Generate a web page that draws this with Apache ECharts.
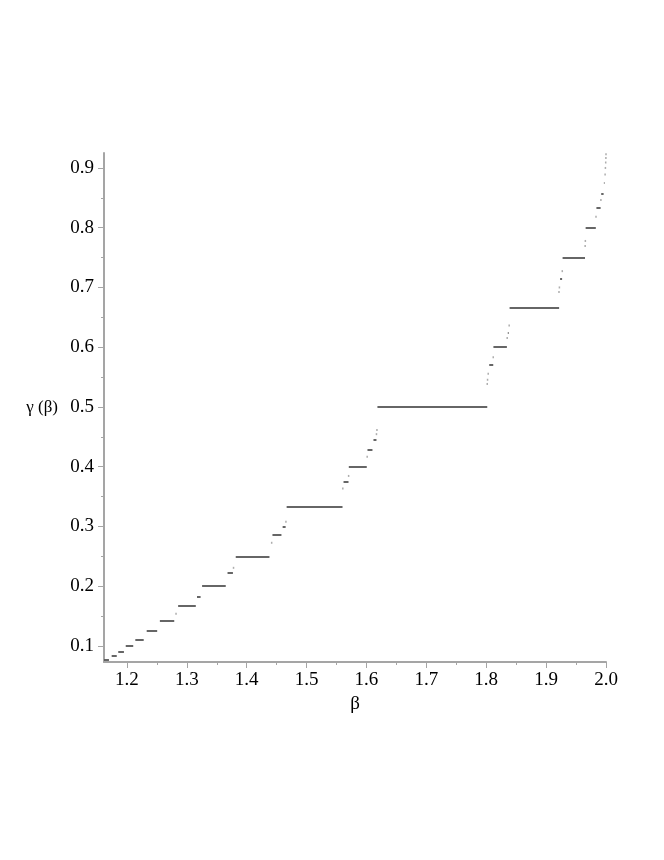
<!DOCTYPE html>
<html>
<head>
<meta charset="utf-8">
<script src="https://cdn.jsdelivr.net/npm/echarts@6.0.0/dist/echarts.min.js"></script>
<style>
  html, body { margin: 0; padding: 0; background: #fff; }
  #chart { width: 664px; height: 860px; }
</style>
</head>
<body>
<div id="chart"></div>
<script>
// plateaus of gamma(beta): level, start beta, end beta
const stepGamma = [0.0769, 0.0833, 0.0909, 0.1, 0.1111, 0.125, 0.1429, 0.1667, 0.1818, 0.2,
    0.2222, 0.25, 0.2857, 0.3, 0.3333, 0.375, 0.4, 0.4286, 0.4444, 0.5,
    0.5714, 0.6, 0.625, 0.6667, 0.7143, 0.75, 0.8, 0.8333, 0.8571, 0.875];
const stepStart = [1.1620, 1.1745, 1.1855, 1.1980, 1.2140, 1.2330, 1.2550, 1.2855, 1.3170, 1.3255,
    1.3680, 1.3817, 1.4430, 1.4600, 1.4667, 1.5617, 1.5705, 1.6017, 1.6117, 1.6183,
    1.8050, 1.8120, 1.8360, 1.8390, 1.9233, 1.9275, 1.9660, 1.9840, 1.9920, 1.9965];
const stepEnd = [1.1700, 1.1830, 1.1950, 1.2105, 1.2280, 1.2505, 1.2790, 1.3150, 1.3230, 1.3650,
    1.3770, 1.4380, 1.4580, 1.4650, 1.5600, 1.5700, 1.6005, 1.6100, 1.6167, 1.8017,
    1.8117, 1.8345, 1.8375, 1.9217, 1.9267, 1.9650, 1.9830, 1.9910, 1.9960, 1.9975];

// isolated points between the plateaus
const dotBeta = [1.282, 1.378, 1.4417, 1.4655, 1.5605, 1.5702, 1.6012, 1.6167, 1.6175,
    1.8017, 1.8022, 1.8033, 1.8117, 1.8350, 1.8383, 1.9215, 1.9222, 1.9270,
    1.9652, 1.9655, 1.9833, 1.9915, 1.9985, 1.9990, 1.9995, 1.9998, 2.0];
const dotGamma = [0.1538, 0.2308, 0.2727, 0.3077, 0.3636, 0.3846, 0.4167, 0.4545, 0.4615,
    0.5385, 0.5455, 0.5556, 0.5833, 0.6154, 0.6364, 0.6923, 0.7, 0.7273,
    0.7692, 0.7778, 0.8182, 0.8462, 0.8889, 0.9, 0.9091, 0.9167, 0.9231];

const xTicks = [1.2, 1.3, 1.4, 1.5, 1.6, 1.7, 1.8, 1.9, 2.0];
const xMinor = [1.25, 1.35, 1.45, 1.55, 1.65, 1.75, 1.85, 1.95];
const yTicks = [0.1, 0.2, 0.3, 0.4, 0.5, 0.6, 0.7, 0.8, 0.9];
const yMinor = [0.15, 0.25, 0.35, 0.45, 0.55, 0.65, 0.75, 0.85];

const xMin = 1.1617, xMax = 2.0;
const yMin = 0.0732, yMax = 0.925;

const font = "Liberation Serif";
const axisGrey = "#a5a5a5";

const chart = echarts.init(document.getElementById("chart"), null, { renderer: "canvas" });

const stepData = stepGamma.map((g, i) => ({ coords: [[stepStart[i], g], [stepEnd[i], g]] }));
const dotData = dotBeta.map((b, i) => [b, dotGamma[i]]);

chart.setOption({
    backgroundColor: "#fff",
    animation: false,
    grid: { left: 104, right: 58, top: 153, bottom: 198 },
    xAxis: [
        {
            type: "value",
            min: xMin,
            max: xMax,
            name: "β",
            nameLocation: "middle",
            nameGap: 30,
            nameTextStyle: { fontFamily: font, fontSize: 19, color: "#000" },
            axisLine: { lineStyle: { color: axisGrey, width: 2 } },
            axisTick: { customValues: xTicks, length: 6, lineStyle: { color: axisGrey } },
            axisLabel: {
                customValues: xTicks,
                margin: 9,
                fontFamily: font,
                fontSize: 19,
                color: "#000",
                formatter: (v) => v.toFixed(1),
            },
            splitLine: { show: false },
        },
        {
            type: "value",
            min: xMin,
            max: xMax,
            position: "bottom",
            axisLine: { show: false },
            axisTick: { customValues: xMinor, length: 3, lineStyle: { color: axisGrey } },
            axisLabel: { show: false },
            splitLine: { show: false },
        },
    ],
    yAxis: [
        {
            type: "value",
            min: yMin,
            max: yMax,
            name: "γ (β)",
            nameLocation: "middle",
            nameRotate: 0,
            nameGap: 46,
            nameTextStyle: { fontFamily: font, fontSize: 17, color: "#000" },
            axisLine: { lineStyle: { color: axisGrey, width: 2 } },
            axisTick: { customValues: yTicks, length: 6, lineStyle: { color: axisGrey } },
            axisLabel: {
                customValues: yTicks,
                margin: 10,
                fontFamily: font,
                fontSize: 19,
                color: "#000",
                formatter: (v) => v.toFixed(1),
            },
            splitLine: { show: false },
        },
        {
            type: "value",
            min: yMin,
            max: yMax,
            position: "left",
            axisLine: { show: false },
            axisTick: { customValues: yMinor, length: 3, lineStyle: { color: axisGrey } },
            axisLabel: { show: false },
            splitLine: { show: false },
        },
    ],
    series: [
        {
            type: "lines",
            coordinateSystem: "cartesian2d",
            xAxisIndex: 0,
            yAxisIndex: 0,
            lineStyle: { color: "#333", width: 1.7, opacity: 1 },
            data: stepData,
            silent: true,
        },
        {
            type: "scatter",
            xAxisIndex: 0,
            yAxisIndex: 0,
            symbol: "rect",
            symbolSize: [1.5, 2],
            itemStyle: { color: "#999" },
            data: dotData,
            silent: true,
        },
    ],
});
</script>
</body>
</html>
